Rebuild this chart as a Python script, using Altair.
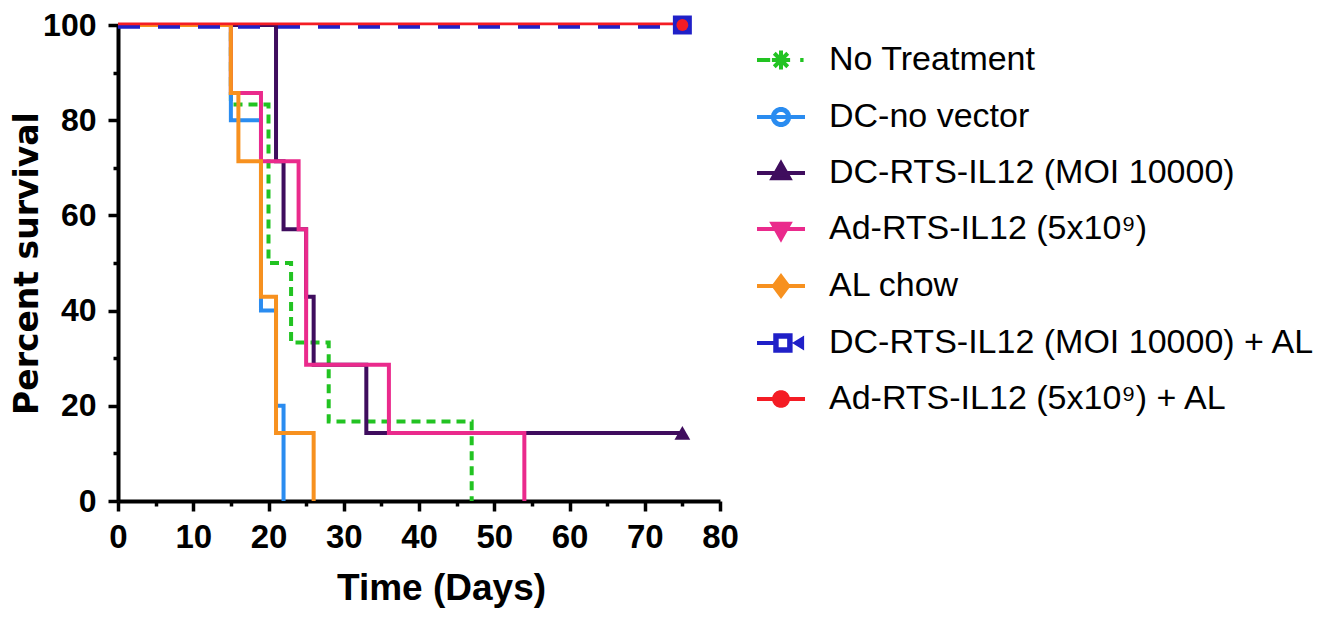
import math
import altair as alt
import pandas as pd

# ---------------- data ----------------
series_names = [
    "No Treatment",
    "DC-no vector",
    "DC-RTS-IL12 (MOI 10000)",
    "Ad-RTS-IL12 (5x10⁹)",
    "AL chow",
    "DC-RTS-IL12 (MOI 10000) + AL",
    "Ad-RTS-IL12 (5x10⁹) + AL",
]
series_colors = ["#22c322", "#2a8cf0", "#3f0d5e", "#ea2a8c", "#f7911f", "#2020c8", "#f41c24"]

no_treat_t = [0, 15, 20, 23, 28, 47]
no_treat_s = [100, 83.3, 50, 33.3, 16.7, 0]
dc_novec_t = [0, 15, 19, 21, 22]
dc_novec_s = [100, 80, 40, 20, 0]
dc_rts_t = [0, 21, 22, 25, 26, 33, 75]
dc_rts_s = [100, 71.4, 57.1, 42.9, 28.6, 14.3, 14.3]
ad_rts_t = [0, 15, 19, 24, 25, 36, 54]
ad_rts_s = [100, 85.7, 71.4, 57.1, 28.6, 14.3, 0]
al_chow_t = [0, 15, 16, 19, 21, 26]
al_chow_s = [100, 85.7, 71.4, 42.9, 14.3, 0]
dc_al_t = [0, 75]
dc_al_s = [100, 100]
ad_al_t = [0, 75]
ad_al_s = [100, 100]

censor_time = 75
x_ticks = list(range(0, 85, 5))
y_ticks = list(range(0, 110, 10))

series_t = [no_treat_t, dc_novec_t, dc_rts_t, ad_rts_t, al_chow_t, dc_al_t, ad_al_t]
series_s = [no_treat_s, dc_novec_s, dc_rts_s, ad_rts_s, al_chow_s, dc_al_s, ad_al_s]

rows = []
for name, ts, ss in zip(series_names, series_t, series_s):
    for t, s in zip(ts, ss):
        rows.append({"series": name, "time": t, "survival": s})
df = pd.DataFrame(rows)
color_of = dict(zip(series_names, series_colors))


# ---------------- legend glyphs (line + marker, unit square) ----------------
def poly_circle(r, reverse=False, n=18):
    angles = [2 * math.pi * k / n for k in range(n)]
    if reverse:
        angles = angles[::-1]
    pts = [f"{r * math.cos(a):.3f},{r * math.sin(a):.3f}" for a in angles]
    return "M" + "L".join(pts) + "Z"


legend_paths = [
    "M-1,0H-0.45M0.8,0H0.94M-0.38,0H0.38M0,-0.4V0.4M-0.28,-0.28L0.28,0.28M-0.28,0.28L0.28,-0.28",
    "M-1,0H1" + poly_circle(0.34) + poly_circle(0.3, reverse=True),
    "M-1,0H1M0,-0.4L0.35,0.22L-0.35,0.22Z",
    "M-1,0H1M0,0.4L0.35,-0.22L-0.35,-0.22Z",
    "M-1,0H1M0,-0.4L0.3,0L0,0.4L-0.3,0Z",
    "M-1,0H-0.24M-0.24,-0.32H0.4V0.32H-0.24ZM-0.18,-0.26V0.26H0.34V-0.26ZM0.62,0L0.88,-0.16L0.88,0.16Z",
    "M-1,0H1" + poly_circle(0.29),
]

line_style = {
    "No Treatment": dict(strokeWidth=4, strokeDash=[9, 6]),
    "DC-no vector": dict(strokeWidth=4),
    "DC-RTS-IL12 (MOI 10000)": dict(strokeWidth=4),
    "Ad-RTS-IL12 (5x10⁹)": dict(strokeWidth=4),
    "AL chow": dict(strokeWidth=4),
    "DC-RTS-IL12 (MOI 10000) + AL": dict(strokeWidth=4.5, strokeDash=[22, 18], yOffset=1.5),
    "Ad-RTS-IL12 (5x10⁹) + AL": dict(strokeWidth=2.8, yOffset=-1.2),
}
marker_specs = [
    ("DC-RTS-IL12 (MOI 10000)", "triangle-up", 250),
    ("DC-RTS-IL12 (MOI 10000) + AL", "square", 360),
    ("Ad-RTS-IL12 (5x10⁹) + AL", "circle", 140),
]

legend_color_scale = alt.Scale(domain=series_names, range=series_colors)
x_scale = alt.Scale(domain=[0, 80], nice=False, zero=False)
y_scale = alt.Scale(domain=[0, 100], nice=False)

x_axis = alt.Axis(
    values=x_ticks, labelExpr="datum.value % 10 === 0 ? datum.label : ''",
    title="Time (Days)", titleFont="Liberation Sans", titleFontSize=37, titleFontWeight="bold",
    titleColor="black", titlePadding=16, titleX=323,
    labelFont="Liberation Sans", labelFontSize=33, labelFontWeight="bold", labelColor="black",
    labelOverlap=False, labelFlush=False, labelPadding=10,
    domainColor="black", domainWidth=4, tickColor="black", tickWidth=3.5,
    tickSize={"condition": {"test": "datum.value % 10 !== 0", "value": 5}, "value": 10},
    grid=False,
)
y_axis = alt.Axis(
    values=y_ticks, labelExpr="datum.value % 20 === 0 ? datum.label : ''",
    title="Percent survival", titleFont="DejaVu Sans", titleFontSize=33, titleFontWeight="bold",
    titleColor="black", titlePadding=-2,
    labelFont="Liberation Sans", labelFontSize=32, labelFontWeight="bold", labelColor="black",
    labelOverlap=False, labelFlush=False, labelPadding=12,
    domainColor="black", domainWidth=4, tickColor="black", tickWidth=3.5,
    tickSize={"condition": {"test": "datum.value % 20 !== 0", "value": 5}, "value": 10},
    grid=False,
)

legend = alt.Legend(
    title=None, orient="none", legendX=637, legendY=9, padding=0,
    labelFont="Liberation Sans", labelFontSize=34, labelColor="black", labelLimit=700,
    labelOffset=22, symbolSize=2304, symbolStrokeWidth=4, rowPadding=13, symbolOpacity=1,
)

X = alt.X("time:Q", scale=x_scale, axis=x_axis)
Y = alt.Y("survival:Q", scale=y_scale, axis=y_axis)

layers = []
for name in series_names:
    layers.append(
        alt.Chart(df)
        .transform_filter(alt.datum.series == name)
        .mark_line(interpolate="step-after", stroke=color_of[name], **line_style[name])
        .encode(x=X, y=Y)
    )

for name, shape, size in marker_specs:
    layers.append(
        alt.Chart(df)
        .transform_filter((alt.datum.series == name) & (alt.datum.time == censor_time))
        .mark_point(shape=shape, size=size, filled=True, opacity=1, color=color_of[name])
        .encode(x=X, y=Y)
    )

# legend-only layer: its own marks are fully transparent
legend_layer = (
    alt.Chart(df)
    .mark_point(filled=True, opacity=0)
    .encode(
        x=X, y=Y,
        fill=alt.Fill("series:N", scale=legend_color_scale, legend=legend),
        stroke=alt.Stroke("series:N", scale=legend_color_scale, legend=legend),
        shape=alt.Shape("series:N", scale=alt.Scale(domain=series_names, range=legend_paths), legend=legend),
    )
)
layers.append(legend_layer)

chart = (
    alt.layer(*layers)
    .properties(
        width=602, height=476,
        autosize=alt.AutoSizeParams(type="none"),
        padding={"left": 110, "top": 17, "right": 600, "bottom": 108},
        background="white",
    )
    .configure_view(stroke=None)
)

chart.save("out.html", embed_options={"renderer": "svg", "actions": False})
